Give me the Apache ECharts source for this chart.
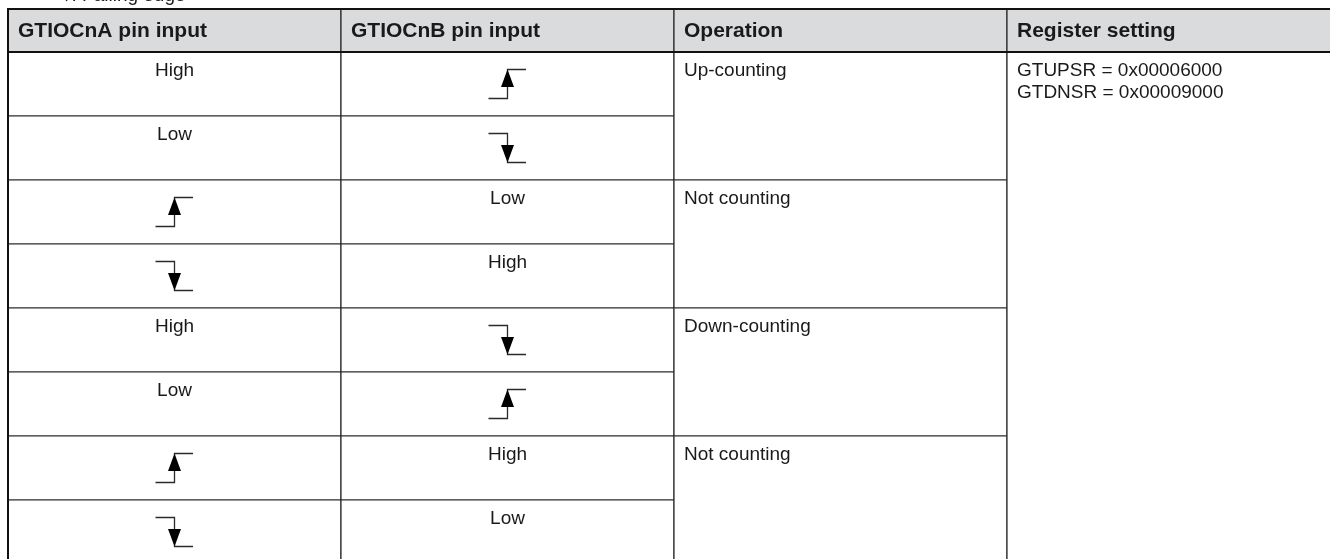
<!DOCTYPE html>
<html>
<head>
<meta charset="utf-8">
<script src="https://cdn.jsdelivr.net/npm/echarts@6/dist/echarts.min.js"></script>
<style>html,body{margin:0;padding:0;background:#fff;}#c{width:1330px;height:559px;}</style>
</head>
<body>
<div id="c"></div>
<script>
// ---- data ----
var legendNote = '\u2193: Falling edge';
var headers = ['GTIOCnA pin input', 'GTIOCnB pin input', 'Operation', 'Register setting'];
var pinA = ['High', 'Low', 'rise', 'fall', 'High', 'Low', 'rise', 'fall'];
var pinB = ['rise', 'fall', 'Low', 'High', 'fall', 'rise', 'High', 'Low'];
var operations = ['Up-counting', 'Not counting', 'Down-counting', 'Not counting'];
var operationSpans = [[0, 2], [2, 4], [4, 6], [6, 8]];
var registerLines = ['GTUPSR = 0x00006000', 'GTDNSR = 0x00009000'];
var registerSpan = [0, 8];
var HEADER_H = 43 / 64;      // header row height in row units
var VISIBLE_COLS = 1322 / 333; // the table runs past the right edge of the picture
var VISIBLE_ROWS = 550 / 64 - HEADER_H; // and past its bottom edge

// ---- build cells ----
var cells = [];
headers.forEach(function (h, i) { cells.push({ x0: i, x1: i + 1, y0: -HEADER_H, y1: 0, kind: 'header', text: [h] }); });
pinA.forEach(function (v, r) { cells.push({ x0: 0, x1: 1, y0: r, y1: r + 1, kind: 'pin', text: v }); });
pinB.forEach(function (v, r) { cells.push({ x0: 1, x1: 2, y0: r, y1: r + 1, kind: 'pin', text: v }); });
operations.forEach(function (v, i) { cells.push({ x0: 2, x1: 3, y0: operationSpans[i][0], y1: operationSpans[i][1], kind: 'left', text: [v] }); });
cells.push({ x0: 3, x1: 4, y0: registerSpan[0], y1: registerSpan[1], kind: 'left', text: registerLines });

var seriesData = cells.map(function (c, i) { return [c.x0, c.y0, c.x1, c.y1, i]; });

var LINE = '#2a2a2a';
var TXT = '#1a1a1a';
var FONT = 'Arial, "Liberation Sans", Helvetica, sans-serif';

function edgeGlyph(cx, cy, rising) {
  var s = LINE;
  var ch = [];
  if (rising) {
    ch.push({ type: 'polyline', shape: { points: [[cx - 19, cy + 14.5], [cx, cy + 14.5], [cx, cy - 14.5], [cx + 18.5, cy - 14.5]] }, style: { stroke: s, lineWidth: 1.3, fill: null } });
    ch.push({ type: 'polygon', shape: { points: [[cx, cy - 14.5], [cx - 6.5, cy + 3], [cx + 6.5, cy + 3]] }, style: { fill: '#000' } });
  } else {
    ch.push({ type: 'polyline', shape: { points: [[cx - 19, cy - 14.5], [cx, cy - 14.5], [cx, cy + 14.5], [cx + 18.5, cy + 14.5]] }, style: { stroke: s, lineWidth: 1.3, fill: null } });
    ch.push({ type: 'polygon', shape: { points: [[cx, cy + 14.5], [cx - 6.5, cy - 3], [cx + 6.5, cy - 3]] }, style: { fill: '#000' } });
  }
  return ch;
}

function renderCell(params, api) {
  var c = cells[api.value(4)];
  var p0 = api.coord([api.value(0), api.value(1)]);
  var p1 = api.coord([api.value(2), api.value(3)]);
  var x = p0[0], y = p0[1], w = p1[0] - p0[0], h = p1[1] - p0[1];
  var children = [];
  children.push({ type: 'rect', shape: { x: x, y: y, width: w, height: h },
    style: { fill: c.kind === 'header' ? '#dadbdc' : '#ffffff', stroke: LINE, lineWidth: 1.2 } });
  if (c.kind === 'header') {
    children.push({ type: 'text', style: { text: c.text[0], x: x + 10, y: y + h / 2 + 1, verticalAlign: 'middle', align: 'left',
      font: 'bold 21px ' + FONT, fill: TXT } });
  } else if (c.kind === 'pin') {
    var cx = x + w / 2;
    if (c.text === 'rise' || c.text === 'fall') {
      children = children.concat(edgeGlyph(cx, y + h / 2, c.text === 'rise'));
    } else {
      children.push({ type: 'text', style: { text: c.text, x: cx, y: y + 19, verticalAlign: 'middle', align: 'center',
        font: '19px ' + FONT, fill: TXT } });
    }
  } else {
    c.text.forEach(function (t, k) {
      children.push({ type: 'text', style: { text: t, x: x + 10, y: y + 19 + k * 22, verticalAlign: 'middle', align: 'left',
        font: '19px ' + FONT, fill: TXT } });
    });
  }
  return { type: 'group', children: children };
}

function renderOutline(params, api) {
  var p0 = api.coord([0, -HEADER_H]);
  var p1 = api.coord([4, 8]);
  var ph = api.coord([0, 0]);
  return { type: 'group', children: [
    { type: 'rect', shape: { x: p0[0], y: p0[1], width: p1[0] - p0[0], height: p1[1] - p0[1] }, style: { fill: null, stroke: '#111', lineWidth: 2 } },
    { type: 'line', shape: { x1: p0[0], y1: ph[1], x2: p1[0], y2: ph[1] }, style: { stroke: '#111', lineWidth: 2 } }
  ] };
}

var chart = echarts.init(document.getElementById('c'), null, { renderer: 'canvas' });
chart.setOption({
  backgroundColor: '#ffffff',
  animation: false,
  graphic: [{ type: 'text', left: 62, top: -14, style: { text: legendNote, font: '19px ' + FONT, fill: TXT } }],
  grid: { left: 8, top: 9, right: 0, bottom: 0 },
  xAxis: { type: 'value', min: 0, max: VISIBLE_COLS, show: false },
  yAxis: { type: 'value', min: -HEADER_H, max: VISIBLE_ROWS, inverse: true, show: false },
  series: [
    { type: 'custom', renderItem: renderCell, data: seriesData, clip: false, silent: true,
      encode: { x: [0, 2], y: [1, 3] } },
    { type: 'custom', renderItem: renderOutline, data: [[0, 0]], clip: false, silent: true, z: 5 }
  ]
});
</script>
</body>
</html>
